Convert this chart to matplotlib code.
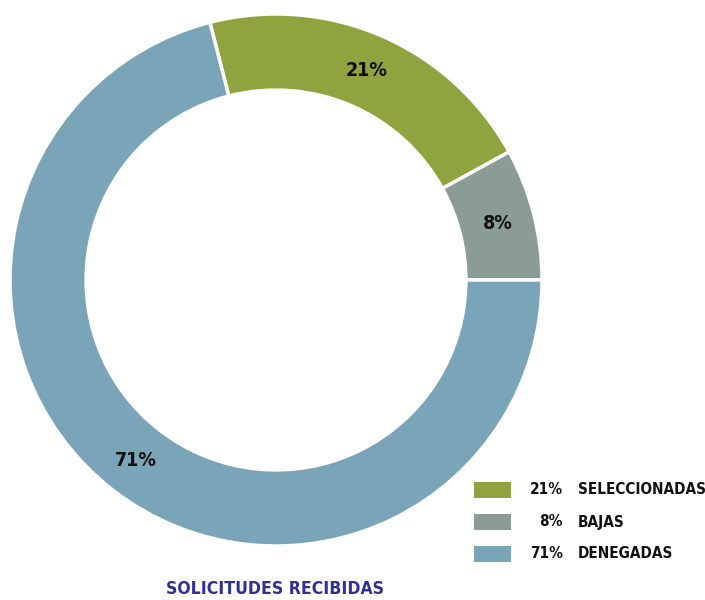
import matplotlib
matplotlib.use('Agg')
import matplotlib.pyplot as plt
from matplotlib.patches import Rectangle

plt.rcParams['font.family'] = ['DejaVu Sans']
plt.rcParams['font.stretch'] = 'condensed'

labels = ['SELECCIONADAS', 'BAJAS', 'DENEGADAS']
values = [21, 8, 71]
colors = ['#8fa43f', '#8a9c93', '#7aa4b8']
title = 'SOLICITUDES RECIBIDAS'

fig = plt.figure(figsize=(7.05, 6), dpi=100)
W, H = 705.0, 600.0

# donut: centre (276, 280) px from top-left, outer radius 266 px
ax = fig.add_axes([10 / W, 54 / H, 532 / W, 532 / H])
wedges, texts, autotexts = ax.pie(
    values, colors=colors, startangle=104.4, counterclock=False,
    radius=1.0, autopct='%.0f%%', pctdistance=0.86,
    wedgeprops=dict(width=0.286, edgecolor='white', linewidth=2.5),
    textprops=dict(fontsize=14, fontweight='bold', color='#111111',
                   fontstretch='condensed'))
ax.set_xlim(-1, 1)
ax.set_ylim(-1, 1)
ax.set_aspect('equal')
ax.axis('off')

# legend, drawn by hand
row_y = [490, 522, 554]
for lab, val, col, y in zip(labels, values, colors, row_y):
    fig.patches.append(Rectangle((474 / W, 1 - (y + 8) / H), 37 / W, 16 / H,
                                 transform=fig.transFigure, facecolor=col,
                                 edgecolor='none'))
    fig.text(563 / W, 1 - y / H, '%d%%' % val, ha='right', va='center',
             fontsize=11, fontweight='bold', color='#111111',
             fontstretch='condensed')
    fig.text(578 / W, 1 - y / H, lab, ha='left', va='center',
             fontsize=11, fontweight='bold', color='#111111',
             fontstretch='condensed')

fig.text(275 / W, 1 - 589 / H, title, ha='center', va='center',
         fontsize=12.6, fontweight='bold', color='#2e3192',
         fontstretch='condensed')

fig.savefig('out.png', dpi=100)
